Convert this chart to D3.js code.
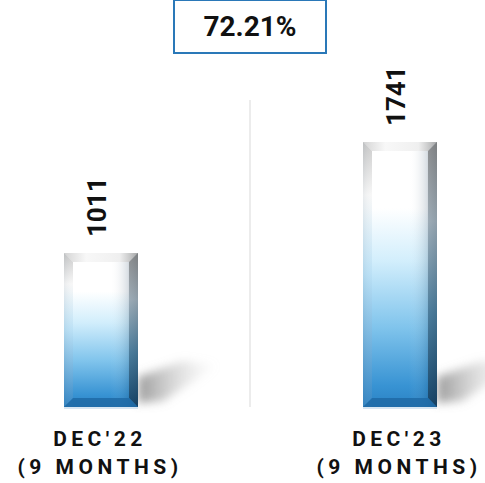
<!DOCTYPE html>
<html>
<head>
<meta charset="utf-8">
<script src="https://cdn.jsdelivr.net/npm/d3@7"></script>
<style>
  html, body { margin: 0; padding: 0; background: #fff; }
  svg { display: block; font-family: Roboto, "Noto Sans", Arial, sans-serif; }
</style>
</head>
<body>
<svg id="chart" width="485" height="483"></svg>
<script>
// Period labels (two lines each), counts and growth figure
const categories = ["DEC'22", "DEC'23"];
const subLabels = ["(9 MONTHS)", "(9 MONTHS)"];
const values = [1011, 1741];
const growthLabel = "72.21%";

const W = 485, H = 483;
const svg = d3.select("#chart");
const defs = svg.append("defs");

const baseline = 407;
const barW = 74;
const bev = 9;

const x = d3.scalePoint().domain(categories).range([101, 400]);
const y = d3.scaleLinear().domain([0, d3.max(values)]).range([baseline, 142]);

// Vertical body gradient: white top fading to saturated blue at base
const gBody = defs.append("linearGradient").attr("id", "body").attr("x1", 0).attr("y1", 0).attr("x2", 0).attr("y2", 1);
[[0, "#ffffff"], [0.25, "#ffffff"], [0.45, "#d2eefc"], [0.7, "#80c4ec"], [0.92, "#3893d3"], [1, "#2a82c4"]]
  .forEach(([o, c]) => gBody.append("stop").attr("offset", o).attr("stop-color", c));

// Horizontal shading to give the column a rounded look
const gSide = defs.append("linearGradient").attr("id", "side").attr("x1", 0).attr("y1", 0).attr("x2", 1).attr("y2", 0);
[[0, "#2b4b66", 0.22], [0.13, "#ffffff", 0.0], [0.62, "#ffffff", 0.0], [0.86, "#1c3f5e", 0.16], [1, "#0d2236", 0.5]]
  .forEach(([o, c, a]) => gSide.append("stop").attr("offset", o).attr("stop-color", c).attr("stop-opacity", a));

// Bevel gradients
const gLeft = defs.append("linearGradient").attr("id", "bevL").attr("x1", 0).attr("y1", 0).attr("x2", 0).attr("y2", 1);
[[0, "#b5b5b5"], [0.2, "#f4f4f4"], [0.5, "#b7def4"], [1, "#3a88c4"]]
  .forEach(([o, c]) => gLeft.append("stop").attr("offset", o).attr("stop-color", c));
const gRight = defs.append("linearGradient").attr("id", "bevR").attr("x1", 0).attr("y1", 0).attr("x2", 0).attr("y2", 1);
[[0, "#7a7a7a"], [0.3, "#93a2ad"], [0.65, "#40708f"], [1, "#153a58"]]
  .forEach(([o, c]) => gRight.append("stop").attr("offset", o).attr("stop-color", c));
const gTop = defs.append("linearGradient").attr("id", "bevT").attr("x1", 0).attr("y1", 0).attr("x2", 1).attr("y2", 0);
[[0, "#d0d0d0"], [0.3, "#f7f7f7"], [0.75, "#eeeeee"], [1, "#a8a8a8"]]
  .forEach(([o, c]) => gTop.append("stop").attr("offset", o).attr("stop-color", c));

// Ground shadow
const gShadow = defs.append("linearGradient").attr("id", "shadow").attr("x1", 0).attr("y1", 0).attr("x2", 1).attr("y2", 0);
[[0, "#707070", 0.7], [0.5, "#a0a0a0", 0.35], [1, "#cccccc", 0]]
  .forEach(([o, c, a]) => gShadow.append("stop").attr("offset", o).attr("stop-color", c).attr("stop-opacity", a));
defs.append("filter").attr("id", "blur").attr("x", "-50%").attr("y", "-50%").attr("width", "200%").attr("height", "200%")
  .append("feGaussianBlur").attr("stdDeviation", 5);

// Divider between the two periods
svg.append("line")
  .attr("x1", 250).attr("x2", 250).attr("y1", 100).attr("y2", baseline)
  .attr("stroke", "#d9d9d9").attr("stroke-width", 1);

const bars = svg.selectAll("g.bar").data(values).join("g").attr("class", "bar");

bars.each(function (v, i) {
  const g = d3.select(this);
  const x0 = x(categories[i]) - barW / 2, x1 = x0 + barW;
  const y0 = y(v), y1 = baseline;

  // shadow cast to the right
  g.append("path")
    .attr("d", `M${x1},${y1 - 4} L${x1},${y1 - 30} L${x1 + 45},${y1 - 46} L${x1 + 80},${y1 - 42} L${x1 + 25},${y1 - 6} Z`)
    .attr("fill", "url(#shadow)").attr("filter", "url(#blur)");

  g.append("rect").attr("x", x0).attr("y", y0).attr("width", barW).attr("height", y1 - y0)
    .attr("fill", "url(#body)");
  g.append("rect").attr("x", x0).attr("y", y0).attr("width", barW).attr("height", y1 - y0)
    .attr("fill", "url(#side)");

  // bevels
  g.append("path").attr("d", `M${x0},${y0} L${x1},${y0} L${x1 - bev},${y0 + bev} L${x0 + bev},${y0 + bev} Z`)
    .attr("fill", "url(#bevT)").attr("opacity", 0.9);
  g.append("path").attr("d", `M${x0},${y0} L${x0 + bev},${y0 + bev} L${x0 + bev},${y1 - bev} L${x0},${y1} Z`)
    .attr("fill", "url(#bevL)").attr("opacity", 0.7);
  g.append("path").attr("d", `M${x1},${y0} L${x1},${y1} L${x1 - bev},${y1 - bev} L${x1 - bev},${y0 + bev} Z`)
    .attr("fill", "url(#bevR)").attr("opacity", 0.8);
  g.append("path").attr("d", `M${x0},${y1} L${x0 + bev},${y1 - bev} L${x1 - bev},${y1 - bev} L${x1},${y1} Z`)
    .attr("fill", "#1f6aa6").attr("opacity", 0.85);
  g.append("line").attr("x1", x0).attr("x2", x1).attr("y1", y1 + 1).attr("y2", y1 + 1)
    .attr("stroke", "#d8e6f2").attr("stroke-width", 2);

  // rotated value label
  g.append("text")
    .attr("transform", `translate(${x(categories[i]) + 5},${y0 - 16}) rotate(-90)`)
    .attr("text-anchor", "start")
    .attr("font-size", 26).attr("font-weight", 700).attr("fill", "#111")
    .text(v);
});

// category labels
const labels = svg.selectAll("g.lab").data(categories).join("g").attr("class", "lab");
labels.append("text")
  .attr("x", d => x(d) - 1).attr("y", 446)
  .attr("text-anchor", "middle").attr("font-size", 21).attr("font-weight", 700)
  .attr("letter-spacing", "4.5px").attr("fill", "#111")
  .text(d => d);
labels.append("text")
  .attr("x", d => x(d) - 1).attr("y", 474)
  .attr("text-anchor", "middle").attr("font-size", 21).attr("font-weight", 700)
  .attr("letter-spacing", "4.5px").attr("fill", "#111")
  .text((d, i) => subLabels[i]);

// growth box
svg.append("rect").attr("x", 174).attr("y", 0).attr("width", 152).attr("height", 53)
  .attr("fill", "#fff").attr("stroke", "#2a78b8").attr("stroke-width", 2);
svg.append("text").attr("x", 250).attr("y", 36).attr("text-anchor", "middle")
  .attr("font-size", 28).attr("font-weight", 700).attr("fill", "#111").text(growthLabel);
</script>
</body>
</html>
